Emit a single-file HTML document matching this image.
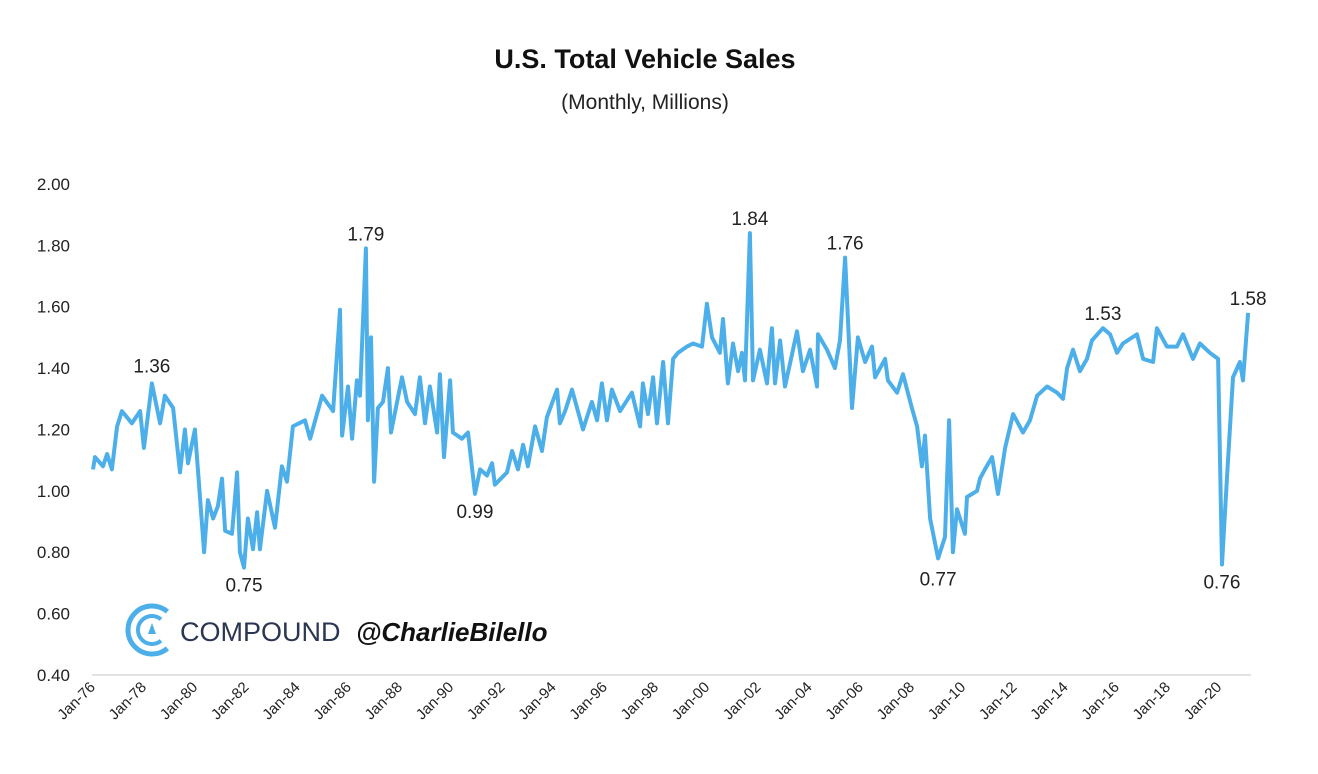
<!DOCTYPE html>
<html><head><meta charset="utf-8"><style>
body{margin:0;background:#fff;}
svg{display:block;font-family:"Liberation Sans",sans-serif;}
</style></head><body>
<svg width="1318" height="774" viewBox="0 0 1318 774">
<rect width="1318" height="774" fill="#fff"/>
<text x="645" y="68" text-anchor="middle" font-size="27" font-weight="bold" fill="#111">U.S. Total Vehicle Sales</text>
<text x="645" y="109" text-anchor="middle" font-size="21" fill="#222">(Monthly, Millions)</text>
<g id="yaxis"></g>
<g id="xaxis"></g>
<line x1="92" y1="675" x2="1251" y2="675" stroke="#d9d9d9" stroke-width="1.5"/>
<path id="series" fill="none" stroke="#4dafe9" stroke-width="4" stroke-linejoin="round"/>
<g id="labels"></g>
<g>
<path d="M167.4 611.6 A24 24 0 1 0 167.4 648.4" fill="none" stroke="#4dafe9" stroke-width="5"/>
<path d="M161 619.3 A14 14 0 1 0 161 640.7" fill="none" stroke="#4dafe9" stroke-width="4"/>
<path d="M152 623 L148 634 L156 634 Z" fill="#4dafe9"/>
<text x="180" y="641" font-size="27" fill="#2b3652">COMPOUND</text>
<text x="356" y="641" font-size="26" font-style="italic" font-weight="bold" fill="#111">@CharlieBilello</text>
</g>
</svg>
<script>
const yTicks=[0.4,0.6,0.8,1.0,1.2,1.4,1.6,1.8,2.0];
const xTickYears=[1976,1978,1980,1982,1984,1986,1988,1990,1992,1994,1996,1998,2000,2002,2004,2006,2008,2010,2012,2014,2016,2018,2020];
const yearsSince1976=[0,0.08,0.39,0.55,0.74,0.94,1.13,1.52,1.84,1.99,2.30,2.62,2.81,3.13,3.40,3.59,3.71,3.98,4.34,4.49,4.69,4.88,5.04,5.16,5.43,5.63,5.74,5.90,6.05,6.25,6.41,6.52,6.80,7.11,7.38,7.58,7.81,8.28,8.48,8.95,9.38,9.65,9.73,9.96,10.12,10.31,10.43,10.66,10.74,10.86,10.98,11.13,11.33,11.52,11.64,12.07,12.27,12.58,12.77,12.97,13.16,13.44,13.55,13.71,13.95,14.06,14.41,14.65,14.92,15.12,15.39,15.59,15.70,16.17,16.37,16.60,16.80,16.99,17.27,17.54,17.73,18.13,18.24,18.44,18.71,19.14,19.49,19.69,19.88,20.08,20.27,20.59,21.05,21.37,21.48,21.68,21.88,22.03,22.27,22.46,22.66,22.85,23.20,23.44,23.79,23.98,24.18,24.49,24.61,24.80,25.00,25.20,25.35,25.47,25.66,25.78,26.05,26.33,26.52,26.64,26.84,27.03,27.50,27.73,28.01,28.28,28.32,28.67,28.98,29.18,29.38,29.65,29.88,30.16,30.43,30.55,30.94,31.05,31.41,31.64,31.99,32.19,32.38,32.50,32.70,33.01,33.28,33.44,33.59,33.75,34.06,34.14,34.53,34.65,34.84,35.12,35.35,35.63,35.94,36.33,36.60,36.88,37.27,37.66,37.89,38.05,38.28,38.55,38.83,39.02,39.45,39.73,40.00,40.23,40.78,41.02,41.41,41.56,41.95,42.34,42.58,42.97,43.24,43.63,43.95,44.10,44.30,44.53,44.80,44.92,45.12];
const sales=[1.07,1.11,1.08,1.12,1.07,1.21,1.26,1.22,1.26,1.14,1.35,1.22,1.31,1.27,1.06,1.20,1.09,1.20,0.80,0.97,0.91,0.95,1.04,0.87,0.86,1.06,0.80,0.75,0.91,0.81,0.93,0.81,1.00,0.88,1.08,1.03,1.21,1.23,1.17,1.31,1.26,1.59,1.18,1.34,1.17,1.36,1.31,1.79,1.23,1.50,1.03,1.27,1.29,1.40,1.19,1.37,1.29,1.25,1.37,1.22,1.34,1.19,1.38,1.11,1.36,1.19,1.17,1.19,0.99,1.07,1.05,1.09,1.02,1.06,1.13,1.07,1.15,1.08,1.21,1.13,1.24,1.33,1.22,1.26,1.33,1.20,1.29,1.23,1.35,1.23,1.33,1.26,1.32,1.21,1.35,1.25,1.37,1.22,1.42,1.22,1.43,1.45,1.47,1.48,1.47,1.61,1.50,1.45,1.56,1.35,1.48,1.39,1.45,1.36,1.84,1.36,1.46,1.35,1.53,1.35,1.49,1.34,1.52,1.39,1.46,1.34,1.51,1.46,1.40,1.49,1.76,1.27,1.50,1.42,1.47,1.37,1.43,1.36,1.32,1.38,1.27,1.21,1.08,1.18,0.91,0.78,0.85,1.23,0.80,0.94,0.86,0.98,1.00,1.04,1.07,1.11,0.99,1.14,1.25,1.19,1.23,1.31,1.34,1.32,1.30,1.40,1.46,1.39,1.43,1.49,1.53,1.51,1.45,1.48,1.51,1.43,1.42,1.53,1.47,1.47,1.51,1.43,1.48,1.45,1.43,0.76,1.05,1.37,1.42,1.36,1.58];
const labelTexts=["1.36","1.79","0.75","0.99","1.84","1.76","0.77","1.53","0.76","1.58"];
const labelYears=[2.30,10.66,5.90,14.92,25.66,29.38,33.01,39.45,44.10,45.12];
const labelValues=[1.36,1.79,0.75,0.99,1.84,1.76,0.77,1.53,0.76,1.58];
const labelAbove=[true,true,false,false,true,true,false,true,false,true];

const X=t=>93+t*25.6;
const Y=v=>675-(v-0.4)*306.9;
const NS="http://www.w3.org/2000/svg";
const ya=document.getElementById('yaxis');
yTicks.forEach(v=>{const t=document.createElementNS(NS,'text');


t.setAttribute('x',70);t.setAttribute('y',Y(v)+6);t.setAttribute('text-anchor','end');t.setAttribute('font-size','17');t.setAttribute('fill','#222');t.textContent=v.toFixed(2);ya.appendChild(t);});
const xa=document.getElementById('xaxis');
xTickYears.forEach(yr=>{const t=document.createElementNS(NS,'text');


const x=X(yr-1976)+3,y=688;t.setAttribute('x',x);t.setAttribute('y',y);t.setAttribute('text-anchor','end');t.setAttribute('font-size','15');t.setAttribute('fill','#222');t.setAttribute('transform','rotate(-45 '+x+' '+y+')');t.textContent='Jan-'+String(yr).slice(2);xa.appendChild(t);});
let d='';yearsSince1976.forEach((t,i)=>{d+=(i?'L':'M')+X(t).toFixed(1)+' '+Y(sales[i]).toFixed(1);});
document.getElementById('series').setAttribute('d',d);
const lg=document.getElementById('labels');
labelTexts.forEach((s,i)=>{const t=document.createElementNS(NS,'text');


t.setAttribute('x',X(labelYears[i]));t.setAttribute('y',labelAbove[i]?Y(labelValues[i])-8:Y(labelValues[i])+24);t.setAttribute('text-anchor','middle');t.setAttribute('font-size','19');t.setAttribute('fill','#222');t.textContent=s;lg.appendChild(t);});
</script>
</body></html>
